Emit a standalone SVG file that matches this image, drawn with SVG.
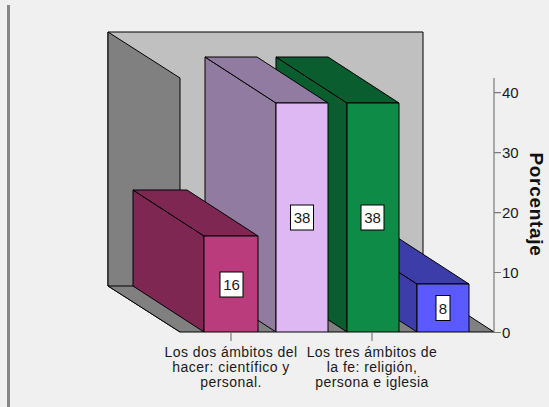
<svg xmlns="http://www.w3.org/2000/svg" width="549" height="407" viewBox="0 0 549 407">
<style>
  .edge { stroke: #000; stroke-width: 1; stroke-linejoin: round; }
  .wall { fill: #808080; }
  .back { fill: #C0C0C0; }
  .txt { font-family: "Liberation Sans", Arial, sans-serif; font-size: 15px; fill: #1a1a1a; }
  .cat { font-family: "Liberation Sans", Arial, sans-serif; font-size: 14px; letter-spacing: 0.45px; fill: #1a1a1a; text-anchor: middle; }
  .ctr { text-anchor: middle; }
  .vbox { fill: #fff; stroke: #000; stroke-width: 1; }
  .axis { stroke: #7a7a7a; stroke-width: 1.2; fill: none; }
  .title { font-family: "Liberation Sans", Arial, sans-serif; font-size: 19px; letter-spacing: 0.7px; font-weight: bold; fill: #111; text-anchor: middle; }
</style>
<rect x="0" y="0" width="549" height="407" fill="#F0F0F0"/>
<rect x="7" y="5" width="3" height="402" fill="#868686"/>

<g id="walls">
  <rect class="back edge" x="108" y="32" width="315" height="254"/>
  <path class="wall edge" d="M108,32 L180,78 L180,332 L108,286 Z"/>
  <path class="wall edge" d="M108,286 L423,286 L494,332 L180,332 Z"/>
</g>

<g id="bar-blue">
  <path class="edge" fill="#3C3DA8" d="M346,238 L417,284 L417,332 L346,286 Z"/>
  <path class="edge" fill="#3C3DA8" d="M346,238 L398,238 L469,284 L417,284 Z"/>
  <rect class="edge" fill="#5A5AFF" x="417" y="284" width="52" height="48"/>
  <rect class="vbox" x="436" y="295.5" width="14" height="25"/>
  <text class="txt ctr" x="443" y="313.5">8</text>
</g>

<g id="bar-green">
  <path class="edge" fill="#0A5D2F" d="M276,57 L347,103 L347,332 L276,286 Z"/>
  <path class="edge" fill="#0A5D2F" d="M276,57 L328,57 L399,103 L347,103 Z"/>
  <rect class="edge" fill="#0E8B46" x="347" y="103" width="52" height="229"/>
  <rect class="vbox" x="361" y="205" width="23" height="25"/>
  <text class="txt ctr" x="372.5" y="223">38</text>
</g>

<g id="bar-lilac">
  <path class="edge" fill="#927BA1" d="M205,57 L276,103 L276,332 L205,286 Z"/>
  <path class="edge" fill="#927BA1" d="M205,57 L257,57 L328,103 L276,103 Z"/>
  <rect class="edge" fill="#DEB8F2" x="276" y="103" width="52" height="229"/>
  <rect class="vbox" x="290.5" y="205" width="23" height="25"/>
  <text class="txt ctr" x="302" y="223">38</text>
</g>

<g id="bar-magenta">
  <path class="edge" fill="#7E2752" d="M133,190 L204,236 L204,332 L133,286 Z"/>
  <path class="edge" fill="#7E2752" d="M133,190 L187,190 L258,236 L204,236 Z"/>
  <rect class="edge" fill="#BA3C7C" x="204" y="236" width="54" height="96"/>
  <rect class="vbox" x="220" y="272" width="23" height="25"/>
  <text class="txt ctr" x="231.5" y="289.5">16</text>
</g>

<g id="axes">
  <line class="axis" x1="180" y1="332.5" x2="494" y2="332.5" stroke="#333"/>
  <line class="axis" x1="494" y1="78" x2="494" y2="332.5"/>
  <path class="axis" d="M494,332.5 H501 M494,272.5 H501 M494,212.6 H501 M494,152.7 H501 M494,92.7 H501"/>
  <path class="axis" d="M231,332 V341 M372,332 V341"/>
  <text class="txt" x="502" y="338">0</text>
  <text class="txt" x="502" y="278">10</text>
  <text class="txt" x="502" y="218">20</text>
  <text class="txt" x="502" y="158">30</text>
  <text class="txt" x="502" y="98">40</text>
  <text class="title" transform="translate(530,204.5) rotate(90)">Porcentaje</text>
</g>

<g id="labels">
  <text class="cat" x="231" y="357">Los dos ámbitos del</text>
  <text class="cat" x="231" y="372">hacer: científico y</text>
  <text class="cat" x="231" y="387">personal.</text>
  <text class="cat" x="372" y="357">Los tres ámbitos de</text>
  <text class="cat" x="372" y="372">la fe: religión,</text>
  <text class="cat" x="372" y="387">persona e iglesia</text>
</g>
</svg>
